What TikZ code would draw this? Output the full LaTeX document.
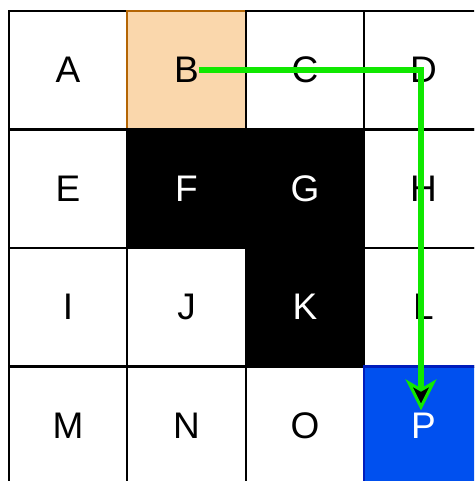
\documentclass[tikz,border=0pt]{standalone}
\usepackage{fontspec}
\setmainfont{Liberation Sans}
\definecolor{orfill}{HTML}{FAD7AC}
\definecolor{orline}{HTML}{B46504}
\definecolor{blfill}{HTML}{0050EF}
\definecolor{blline}{HTML}{001DBC}
\definecolor{arrgreen}{RGB}{16,232,0}
\begin{document}
\begin{tikzpicture}[x=1pt,y=-1pt,
  cell/.style={draw=black,fill=white,line width=2.4pt,minimum width=118.5pt,minimum height=118.5pt,inner sep=0pt,outer sep=0pt,font=\fontsize{37}{40}\selectfont,text=black},
  dark/.style={cell,fill=black,text=white},
  orcell/.style={cell,fill=orfill,draw=orline},
  blcell/.style={cell,fill=blfill,draw=blline,text=white},
  route/.style={draw=arrgreen,line width=6.5pt}]
\useasboundingbox (0,0) rectangle (474,481);
\fill[white] (0,0) rectangle (474,481);
\begin{scope}
\clip (0,0) rectangle (474,481);
\node[cell]   (a) at (68,70.25) {A};
\node[orcell] (b) at (186.5,70.25) {B};
\node[cell]   (c) at (305,70.25) {C};
\node[cell]   (d) at (423.5,70.25) {D};
\node[cell]   (e) at (68,188.75) {E};
\node[dark]   (f) at (186.5,188.75) {F};
\node[dark]   (g) at (305,188.75) {G};
\node[cell]   (h) at (423.5,188.75) {H};
\node[cell]   (i) at (68,307.25) {I};
\node[cell]   (j) at (186.5,307.25) {J};
\node[dark]   (k) at (305,307.25) {K};
\node[cell]   (l) at (423.5,307.25) {L};
\node[cell]   (m) at (68,425.75) {M};
\node[cell]   (n) at (186.5,425.75) {N};
\node[cell]   (o) at (305,425.75) {O};
\node[blcell] (p) at (423.5,425.75) {P};
\coordinate (s) at (199,70);
\coordinate (corner) at (421,70);
\coordinate (tipbase) at (421,388);
\coordinate (tip) at (421,407);
\draw[route,line cap=butt,line join=miter] (s) -- (corner) -- (tipbase);
\filldraw[fill=black,draw=arrgreen,line width=3pt,line join=miter]
  (tip) -- ++(-12,-24) -- ++(12,7) -- ++(12,-7) -- cycle;
\end{scope}
\end{tikzpicture}
\end{document}
